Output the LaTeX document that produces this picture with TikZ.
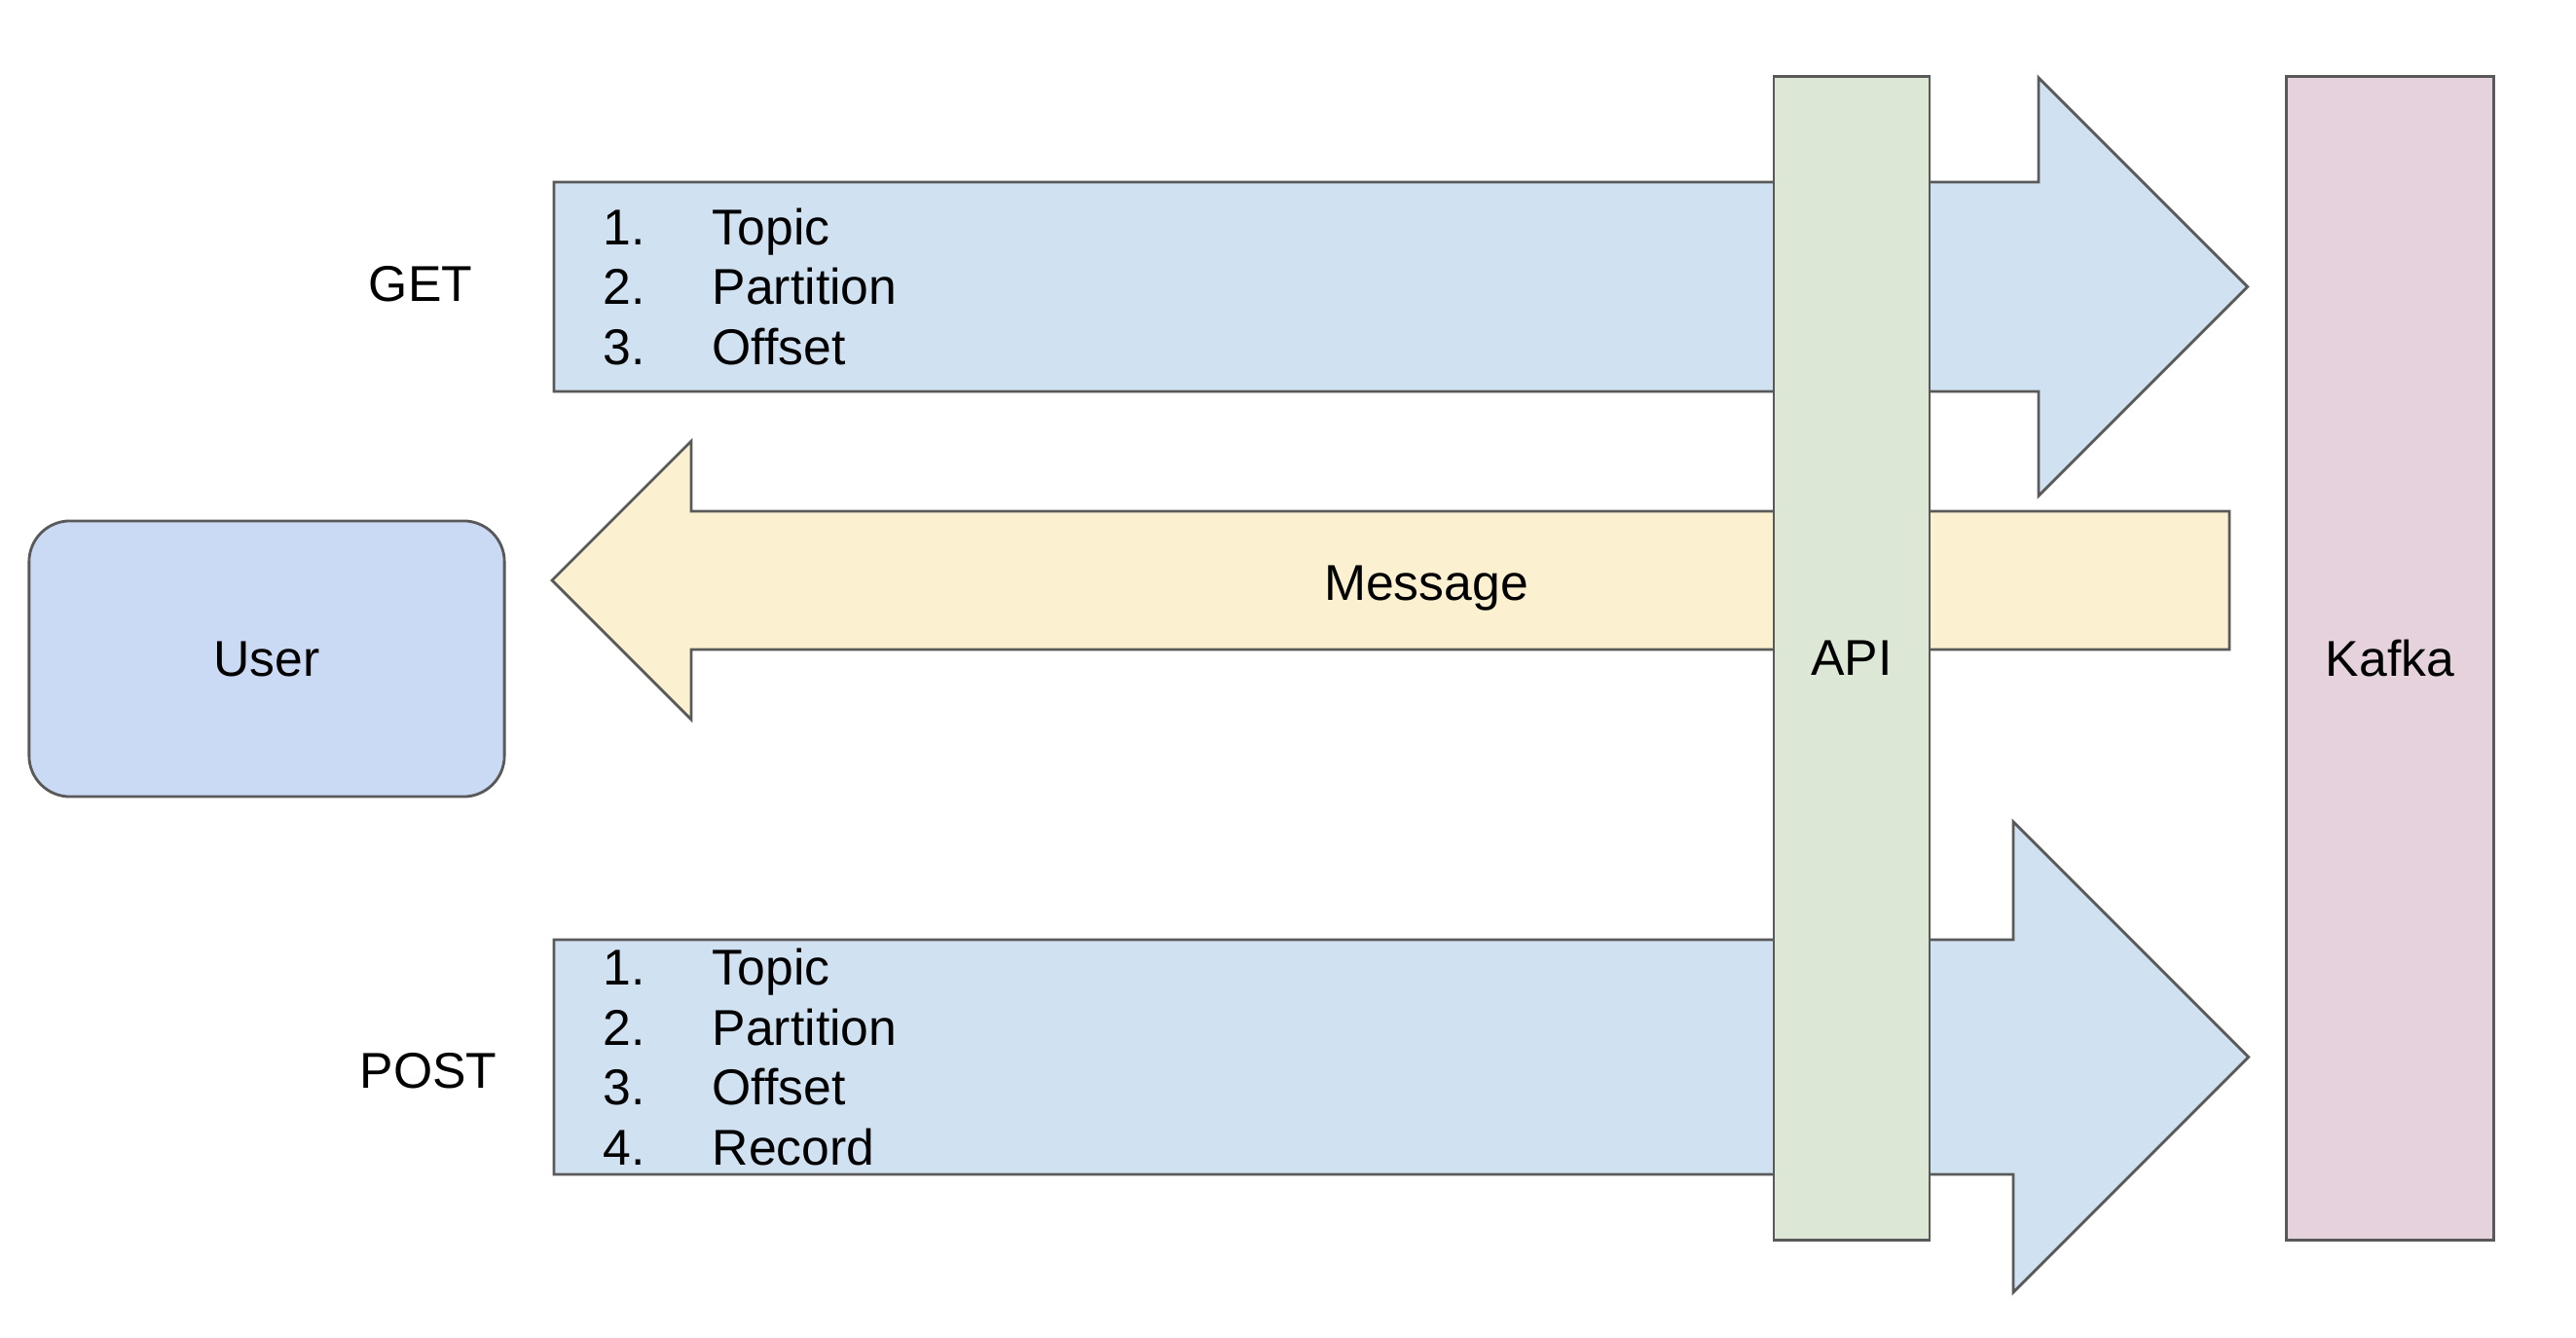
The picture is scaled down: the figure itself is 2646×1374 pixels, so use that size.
\documentclass[tikz,border=0pt]{standalone}
\usepackage{fontspec}
\setmainfont{Liberation Sans}

\definecolor{linegray}{HTML}{595959}
\definecolor{reqblue}{HTML}{D0E1F1}
\definecolor{msgyellow}{HTML}{FBF0CF}
\definecolor{apigreen}{HTML}{DCE8D5}
\definecolor{kafkapink}{HTML}{E5D2DC}
\definecolor{userblue}{HTML}{CADAF5}

\begin{document}
\begin{tikzpicture}[
    x=0.01cm, y=-0.01cm,
    every node/.style={font=\fontsize{14.7}{17.5}\selectfont},
    outline/.style={draw=linegray, line width=0.8pt},
    bigarrow/.style={outline, line join=miter},
    bar/.style={rectangle, outline, minimum width=1.6cm, minimum height=11.94cm, align=center},
    listtext/.style={anchor=west, align=left, inner sep=0pt},
    verb/.style={anchor=center}
]

\useasboundingbox (0,0) rectangle (2646,1374);

% GET request
\draw[bigarrow, fill=reqblue] (569,187) -- (2094,187) -- (2094,80) -- (2308.5,294.5)
    -- (2094,509) -- (2094,402) -- (569,402) -- cycle;
\node[listtext] (getlist) at (619,294.5) {\makebox[1.12cm][l]{1.}Topic\\\makebox[1.12cm][l]{2.}Partition\\\makebox[1.12cm][l]{3.}Offset};
\node[verb] (get) at (432,292) {GET};

% answer
\draw[bigarrow, fill=msgyellow] (2290,525) -- (710,525) -- (710,453) -- (567,596)
    -- (710,739) -- (710,667) -- (2290,667) -- cycle;
\node (msg) at (1465,604) {Message};

% POST request
\draw[bigarrow, fill=reqblue] (569,965) -- (2068,965) -- (2068,844) -- (2309.5,1085.5)
    -- (2068,1327) -- (2068,1206) -- (569,1206) -- cycle;
\node[listtext] (postlist) at (619,1085.5) {\makebox[1.12cm][l]{1.}Topic\\\makebox[1.12cm][l]{2.}Partition\\\makebox[1.12cm][l]{3.}Offset\\\makebox[1.12cm][l]{4.}Record};
\node[verb] (post) at (440,1100) {POST};

\node[rectangle, rounded corners=0.42cm, outline, fill=userblue, minimum width=4.88cm, minimum height=2.83cm] (user) at (274,676.5) {User};

\node[bar, fill=apigreen] (api) at (1902,676) {API};
\node[bar, fill=kafkapink, minimum width=2.13cm] (kafka) at (2455,676) {Kafka};

\end{tikzpicture}
\end{document}
